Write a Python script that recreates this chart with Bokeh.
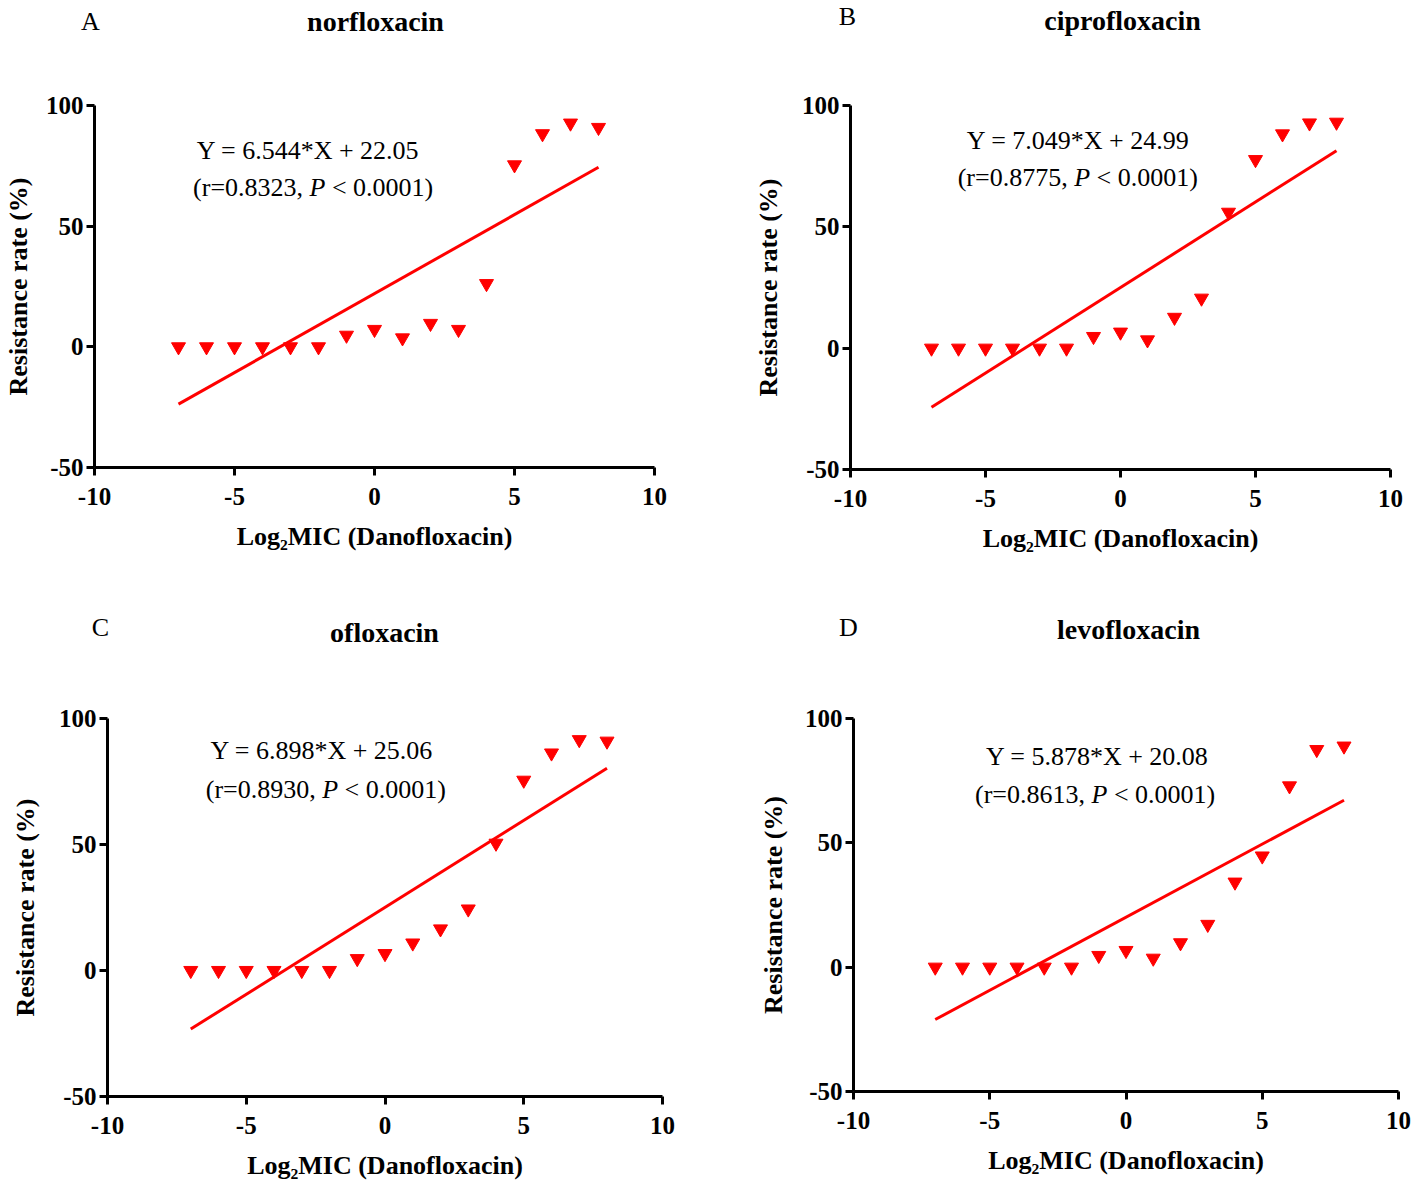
from bokeh.plotting import figure
from bokeh.layouts import column, row
from bokeh.models import Label, FixedTicker, PrintfTickFormatter
from bokeh.core.properties import value
from bokeh.embed import file_html
from bokeh.resources import INLINE

# ---------------- data ----------------
log2_mic = [-7, -6, -5, -4, -3, -2, -1, 0, 1, 2, 3, 4, 5, 6, 7, 8]
norfloxacin = [0, 0, 0, 0, 0, 0, 4.8, 7.2, 3.7, 9.7, 7.2, 26.2, 75.4, 88.3, 92.7, 90.9]
ciprofloxacin = [0, 0, 0, 0, 0, 0, 4.8, 6.6, 3.4, 12.7, 20.6, 56.0, 77.7, 88.3, 92.8, 93.1]
ofloxacin = [0, 0, 0, 0, 0, 0, 4.7, 6.7, 10.9, 16.5, 24.4, 50.5, 75.5, 86.3, 91.6, 91.0]
levofloxacin = [0, 0, 0, 0, 0, 0, 4.7, 6.7, 3.6, 9.8, 17.2, 34.2, 44.7, 72.9, 87.5, 88.9]
series = [norfloxacin, ciprofloxacin, ofloxacin, levofloxacin]
drugs = ["norfloxacin", "ciprofloxacin", "ofloxacin", "levofloxacin"]
panel_letters = ["A", "B", "C", "D"]
slopes = [6.544, 7.049, 6.898, 5.878]
intercepts = [22.05, 24.99, 25.06, 20.08]
r_values = ["0.8323", "0.8775", "0.8930", "0.8613"]
p_text = "0.0001"
x_ticks = [-10, -5, 0, 5, 10]
y_ticks = [-50, 0, 50, 100]
x_label = "Log\u2082MIC (Danofloxacin)"
y_label = "Resistance rate (%)"

# ---------------- layout / style ----------------
SERIF = "Liberation Serif"
RED = "#FF0000"
TOTAL_W = 1413
# (left, top, frame_w, frame_h, right, bottom)
frames = [
    (94, 55, 560, 362, 86, 123),
    (110, 55, 540, 364, 23, 121),
    (107, 57, 555, 378, 78, 80),
    (113, 58, 545, 373, 15, 84),
]
ylabel_standoff = [10, 16, 16, 14]
HEADER_H = [50, 70]
# header text positions (x px from left, y px from header bottom)
title_pos = [(375, 29), (1122, 30), (384, 28), (1128, 31)]
letter_pos = [(90, 29), (847, 34), (100, 33), (848, 33)]
eq_pos = [  # (x1, y1, x2, y2) in data units
    (-6.35, 81.4, -6.48, 65.9),
    (-5.69, 85.6, -6.03, 70.2),
    (-6.29, 87.5, -6.46, 71.8),
    (-5.14, 84.8, -5.54, 69.4),
]

# Times-compatible advance widths (em)
W = {"(": .333, ")": .333, "r": .333, "=": .564, ".": .25, ",": .25, " ": .25, "<": .564}
def text_w(s, size):
    return sum(W.get(c, .5) for c in s) * size

EQ_SIZE = 26


def make_header(idx_pair, h):
    hp = figure(width=TOTAL_W, height=h, x_range=(0, TOTAL_W), y_range=(0, h),
                x_axis_type=None, y_axis_type=None, min_border=0,
                output_backend="svg", toolbar_location=None,
                background_fill_color="white", border_fill_color="white")
    hp.outline_line_color = None
    hp.xgrid.visible = False
    hp.ygrid.visible = False
    hp.text(x=[title_pos[i][0] for i in idx_pair], y=[title_pos[i][1] for i in idx_pair],
            text=[drugs[i] for i in idx_pair], text_font=value(SERIF),
            text_font_style="bold", text_font_size="28px", text_align="center",
            text_baseline="middle", text_color="black")
    hp.text(x=[letter_pos[i][0] for i in idx_pair], y=[letter_pos[i][1] for i in idx_pair],
            text=[panel_letters[i] for i in idx_pair], text_font=value(SERIF),
            text_font_size="26px", text_align="center",
            text_baseline="middle", text_color="black")
    return hp


def make_panel(i):
    left, top, fw, fh, right, bottom = frames[i]
    p = figure(frame_width=fw, frame_height=fh,
               min_border_left=left, min_border_top=top,
               min_border_right=right, min_border_bottom=bottom,
               x_range=(-10, 10), y_range=(-50, 100),
               output_backend="svg", toolbar_location=None,
               background_fill_color="white", border_fill_color="white")
    p.outline_line_color = None
    p.xgrid.visible = False
    p.ygrid.visible = False

    for ax, ticks in ((p.xaxis, x_ticks), (p.yaxis, y_ticks)):
        ax.ticker = FixedTicker(ticks=ticks)
        ax.formatter = PrintfTickFormatter(format="%d")
        ax.minor_tick_line_color = None
        ax.axis_line_width = 3
        ax.major_tick_line_width = 3
        ax.major_tick_in = 0
        ax.major_tick_out = 8
        ax.axis_line_color = "black"
        ax.major_tick_line_color = "black"
        ax.major_label_text_font = SERIF
        ax.major_label_text_font_style = "bold"
        ax.major_label_text_font_size = "25px"
        ax.major_label_text_color = "black"
        ax.axis_label_text_font = SERIF
        ax.axis_label_text_font_style = "bold"
        ax.axis_label_text_font_size = "26px"
        ax.axis_label_text_color = "black"
    p.xaxis.axis_label = x_label
    p.yaxis.axis_label = y_label
    p.xaxis.major_label_standoff = 12
    p.xaxis.axis_label_standoff = 14
    p.yaxis.major_label_standoff = 3
    p.yaxis.axis_label_standoff = ylabel_standoff[i]

    xs = [log2_mic[0], log2_mic[-1]]
    ys = [slopes[i] * x + intercepts[i] for x in xs]
    p.line(xs, ys, line_color=RED, line_width=3)
    p.scatter(log2_mic, series[i], marker="inverted_triangle", size=14,
              fill_color=RED, line_color=RED)

    # regression equation
    x1, y1, x2, y2 = eq_pos[i]
    p.add_layout(Label(x=x1, y=y1,
                       text=f"Y = {slopes[i]:.3f}*X + {intercepts[i]:.2f}",
                       text_font=SERIF, text_font_size=f"{EQ_SIZE}px",
                       text_align="left", text_baseline="middle", text_color="black"))
    seg1 = f"(r={r_values[i]},"
    seg3 = f"< {p_text})"
    w1 = text_w(seg1, EQ_SIZE) + 0.25 * EQ_SIZE
    wp = 0.611 * EQ_SIZE + 0.25 * EQ_SIZE
    p.add_layout(Label(x=x2, y=y2, text=seg1, text_font=SERIF,
                       text_font_size=f"{EQ_SIZE}px", text_align="left",
                       text_baseline="middle", text_color="black"))
    p.add_layout(Label(x=x2, y=y2, x_offset=w1, text="P", text_font=SERIF,
                       text_font_style="italic", text_font_size=f"{EQ_SIZE}px",
                       text_align="left", text_baseline="middle", text_color="black"))
    p.add_layout(Label(x=x2, y=y2, x_offset=w1 + wp, text=seg3, text_font=SERIF,
                       text_font_size=f"{EQ_SIZE}px", text_align="left",
                       text_baseline="middle", text_color="black"))
    return p


panels = [make_panel(i) for i in range(4)]
layout = column(make_header((0, 1), HEADER_H[0]),
                row(panels[0], panels[1]),
                make_header((2, 3), HEADER_H[1]),
                row(panels[2], panels[3]))

open("out.html", "w").write(file_html(layout, INLINE))
